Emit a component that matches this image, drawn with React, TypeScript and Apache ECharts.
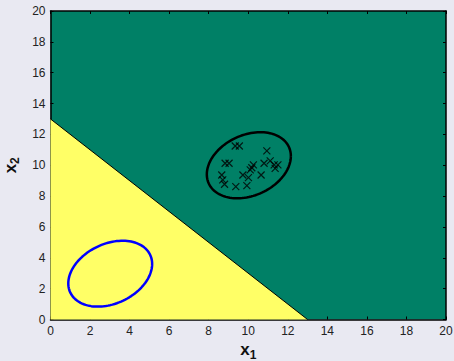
import React, { useEffect, useRef } from "react";
import * as echarts from "echarts";

const xTicks = [0, 2, 4, 6, 8, 10, 12, 14, 16, 18, 20];
const boundaryLine: number[][] = [[0, 13], [13, 0]];
const samplesX = [9.34, 9.55, 10.94, 8.83, 9.03, 10.26, 10.18, 10.10, 10.80, 11.11, 11.31, 11.50, 11.36, 9.73, 10.01, 10.65, 8.66, 8.71, 8.80, 9.37, 9.93];
const samplesY = [11.25, 11.25, 10.93, 10.13, 10.13, 10.02, 9.84, 9.70, 10.13, 10.28, 10.02, 10.02, 9.80, 9.37, 9.20, 9.37, 9.37, 9.05, 8.77, 8.61, 8.68];
// ellipse params: center x, center y, L11, L21, L22 (Cholesky of shape matrix)
const blueEllipse = [3.02, 2.97, 2.12, 0.63, 2.04];
const blackEllipse = [10.03, 10.0, 2.125, 0.59, 2.06];

function ellipsePoints(p: number[]): number[][] {
  const [cx, cy, l11, l21, l22] = p;
  const pts: number[][] = [];
  for (let i = 0; i <= 120; i++) {
    const t = (i / 120) * Math.PI * 2;
    pts.push([cx + l11 * Math.cos(t), cy + l21 * Math.cos(t) + l22 * Math.sin(t)]);
  }
  return pts;
}

export default function App() {
  const ref = useRef<HTMLDivElement>(null);
  useEffect(() => {
    if (!ref.current) return;
    const chart = echarts.init(ref.current, null, { renderer: "svg" });
    const font = "Liberation Sans, Arial, sans-serif";
    const axisCommon = {
      type: "value" as const,
      min: xTicks[0],
      max: xTicks[xTicks.length - 1],
      interval: 2,
      axisLine: { show: true, onZero: false, lineStyle: { color: "#000", width: 1.5 } },
      axisTick: { show: true, inside: true, length: 3, lineStyle: { color: "#000", width: 1 } },
      splitLine: { show: false },
    };
    const samples = samplesX.map((x, i) => [x, samplesY[i]]);
    chart.setOption({
      animation: false,
      backgroundColor: "#e9e9f2",
      grid: {
        left: 50.5,
        right: 8,
        top: 11,
        bottom: 41.5,
        outerBoundsMode: "none",
        containLabel: false,
        show: true,
        backgroundColor: "#008066",
        borderWidth: 0,
      },
      xAxis: [
        {
          ...axisCommon,
          position: "bottom",
          axisLabel: { color: "#222", fontSize: 12, fontFamily: font, margin: 5 },
          name: "x{s|1}",
          nameLocation: "middle",
          nameGap: 17,
          nameTextStyle: {
            fontSize: 17,
            fontWeight: "bold",
            fontFamily: font,
            color: "#111",
            rich: { s: { fontSize: 12, fontWeight: "bold", fontFamily: font, color: "#111", padding: [10, 0, 0, 0] } },
          },
        },
        { ...axisCommon, position: "top", axisLabel: { show: false } },
      ],
      yAxis: [
        {
          ...axisCommon,
          position: "left",
          axisLabel: { color: "#222", fontSize: 12, fontFamily: font, margin: 5 },
          name: "x{s|2}",
          nameLocation: "middle",
          nameGap: 24,
          nameTextStyle: {
            fontSize: 17,
            fontWeight: "bold",
            fontFamily: font,
            color: "#111",
            rich: { s: { fontSize: 12, fontWeight: "bold", fontFamily: font, color: "#111", padding: [10, 0, 0, 0] } },
          },
        },
        { ...axisCommon, position: "right", axisLabel: { show: false } },
      ],
      series: [
        {
          type: "line",
          data: boundaryLine,
          showSymbol: false,
          lineStyle: { color: "#000", width: 1 },
          areaStyle: { color: "#ffff66", opacity: 1 },
          z: 1,
        },
        {
          type: "line",
          data: ellipsePoints(blueEllipse),
          showSymbol: false,
          lineStyle: { color: "#0000ff", width: 2.5 },
          z: 3,
        },
        {
          type: "line",
          data: ellipsePoints(blackEllipse),
          showSymbol: false,
          lineStyle: { color: "#000", width: 2.5 },
          z: 3,
        },
        {
          type: "scatter",
          data: samples,
          symbol: "path://M0,0L10,10M10,0L0,10",
          symbolSize: 7,
          itemStyle: { color: "none", borderColor: "#000", borderWidth: 1.2 },
          z: 4,
        },
      ],
    });
    return () => chart.dispose();
  }, []);
  return <div ref={ref} style={{ width: 454, height: 361, position: "absolute", left: 0, top: 0 }} />;
}
